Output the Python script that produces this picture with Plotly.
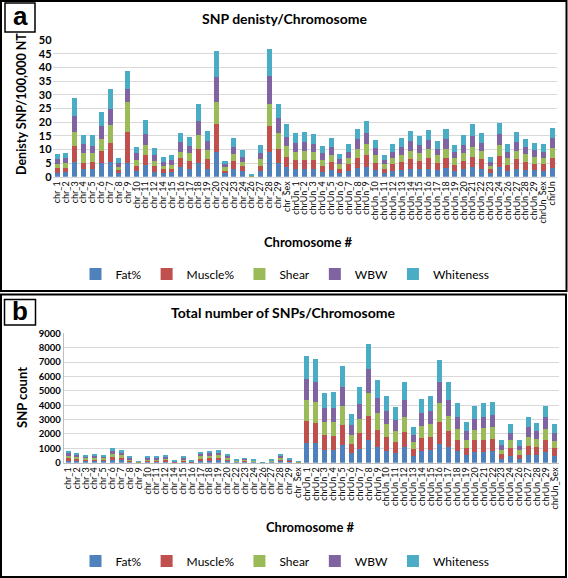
import plotly.graph_objects as go

W, H = 568, 578

# ---------------- data ----------------
cats_a = ["chr_1", "chr_2", "chr_3", "chr_4", "chr_5", "chr_6", "chr_7", "chr_8", "chr_9", "chr_10",
          "chr_11", "chr_12", "chr_14", "chr_15", "chr_16", "chr_17", "chr_18", "chr_19", "chr_20", "chr_22",
          "chr_23", "chr_24", "chr_26", "chr_27", "chr_28", "chr_29", "chr_Sex",
          "chrUn_1", "chrUn_2", "chrUn_3", "chrUn_4", "chrUn_5", "chrUn_6", "chrUn_7", "chrUn_8", "chrUn_9", "chrUn_10",
          "chrUn_11", "chrUn_12", "chrUn_13", "chrUn_14", "chrUn_15", "chrUn_16", "chrUn_17", "chrUn_18", "chrUn_19", "chrUn_20",
          "chrUn_21", "chrUn_22", "chrUn_23", "chrUn_24", "chrUn_26", "chrUn_27", "chrUn_28", "chrUn_29", "chrUn_Sex", "chrUn"]

fat_a = [1.5, 1.8, 5.5, 2.7, 2.7, 5.0, 5.5, 1.2, 5.0, 2.0, 4.3, 1.8, 1.2, 1.7, 3.5, 2.7, 4.9, 2.7, 8.9, 1.2,
         2.7, 2.1, 0.1, 2.1, 8.9, 5.0, 3.6,
         2.8, 3.0, 2.8, 1.8, 2.4, 1.3, 2.0, 3.3, 3.7, 2.4, 1.2, 2.0, 2.4, 3.0, 2.7, 3.0, 2.4, 3.3, 2.0, 2.7,
         3.4, 2.9, 1.2, 3.4, 2.0, 3.0, 2.4, 2.3, 2.0, 3.3]
muscle_a = [1.8, 1.5, 5.8, 2.3, 2.7, 4.5, 6.9, 1.2, 11.2, 2.0, 3.6, 2.2, 1.5, 1.3, 3.2, 3.0, 5.3, 3.6, 10.2, 1.0,
            2.9, 1.8, 0.1, 1.9, 9.8, 5.2, 3.6,
            3.3, 3.1, 3.3, 2.1, 2.8, 1.7, 2.5, 3.4, 4.1, 2.7, 1.7, 2.6, 3.0, 3.5, 2.9, 3.7, 2.7, 3.5, 2.4, 3.2,
            3.9, 3.4, 1.5, 4.3, 2.4, 3.3, 3.1, 2.5, 2.6, 3.6]
shear_a = [1.5, 1.6, 5.0, 3.7, 3.3, 4.3, 6.5, 1.3, 11.2, 2.1, 3.6, 1.9, 1.2, 1.3, 2.3, 2.8, 5.0, 3.6, 8.3, 1.2,
           2.7, 1.5, 0.1, 2.3, 8.0, 5.8, 4.1,
           3.0, 3.3, 2.8, 2.2, 2.8, 1.6, 2.5, 3.4, 4.0, 2.8, 1.6, 2.2, 2.5, 3.0, 2.9, 3.3, 2.7, 3.3, 2.3, 2.9,
           3.7, 3.2, 1.3, 3.9, 2.3, 3.2, 2.7, 2.4, 2.3, 3.5]
wbw_a = [1.5, 1.8, 6.0, 3.1, 2.6, 4.7, 5.9, 1.4, 4.6, 2.6, 4.1, 2.0, 1.6, 1.8, 3.7, 2.8, 5.2, 3.0, 9.2, 1.1,
         2.7, 1.9, 0.1, 2.4, 10.0, 5.3, 3.3,
         3.3, 3.2, 3.1, 2.4, 3.0, 1.7, 2.1, 3.6, 4.1, 2.5, 1.6, 2.3, 3.1, 3.7, 3.0, 3.4, 2.4, 3.6, 2.2, 2.8,
         3.9, 2.9, 1.4, 3.9, 2.3, 3.3, 2.5, 2.6, 2.2, 3.6]
white_a = [2.0, 1.8, 6.6, 3.3, 3.8, 5.2, 7.2, 1.6, 6.7, 2.2, 5.1, 2.6, 1.7, 1.8, 3.3, 3.2, 6.2, 3.8, 9.4, 1.2,
           3.3, 2.3, 0.6, 2.9, 10.0, 5.2, 4.7,
           3.5, 3.6, 3.5, 2.7, 3.3, 1.9, 2.9, 3.6, 4.3, 3.0, 1.8, 2.7, 3.3, 3.5, 3.4, 3.7, 3.0, 3.7, 2.7, 3.5,
           4.2, 3.5, 1.7, 4.1, 2.8, 3.7, 3.0, 2.6, 2.9, 3.8]

cats_b = ["chr_1", "chr_2", "chr_3", "chr_4", "chr_5", "chr_6", "chr_7", "chr_8", "chr_9", "chr_10",
          "chr_11", "chr_12", "chr_14", "chr_15", "chr_16", "chr_17", "chr_18", "chr_19", "chr_20", "chr_22",
          "chr_23", "chr_24", "chr_26", "chr_27", "chr_28", "chr_29", "chr_Sex",
          "chrUn_1", "chrUn_2", "chrUn_3", "chrUn_4", "chrUn_5", "chrUn_6", "chrUn_7", "chrUn_8", "chrUn_9", "chrUn_10",
          "chrUn_11", "chrUn_12", "chrUn_13", "chrUn_14", "chrUn_15", "chrUn_16", "chrUn_17", "chrUn_18", "chrUn_19", "chrUn_20",
          "chrUn_21", "chrUn_22", "chrUn_23", "chrUn_24", "chrUn_26", "chrUn_27", "chrUn_28", "chrUn_29", "chrUn_Sex"]

fat_b = [150, 125, 100, 110, 105, 190, 165, 75, 10, 75, 75, 90, 22, 75, 22, 140, 150, 160, 110, 35,
         57, 40, 2, 40, 110, 48, 13,
         1346, 1346, 905, 882, 1230, 650, 974, 1601, 1090, 789, 673, 1090, 487, 835, 882, 1322, 1067, 789, 510, 719,
         766, 789, 232, 464, 232, 534, 510, 766, 487]
muscle_b = [170, 140, 110, 125, 115, 210, 180, 80, 10, 80, 80, 100, 24, 80, 24, 150, 170, 175, 125, 38,
            62, 43, 2, 43, 125, 52, 14,
            1554, 1438, 998, 974, 1392, 626, 1067, 1624, 1183, 998, 789, 1067, 487, 905, 928, 1485, 1114, 812, 534, 835,
            835, 858, 371, 557, 325, 650, 557, 789, 557]
shear_b = [160, 130, 105, 120, 110, 200, 175, 78, 10, 78, 78, 95, 23, 78, 23, 145, 160, 170, 120, 37,
           60, 41, 2, 41, 120, 50, 14,
           1462, 1438, 928, 974, 1322, 650, 998, 1624, 1160, 928, 766, 1044, 441, 835, 905, 1369, 1067, 766, 557, 742,
           812, 835, 302, 557, 302, 626, 557, 789, 487]
wbw_b = [160, 135, 105, 120, 110, 205, 175, 78, 10, 78, 78, 98, 23, 78, 23, 150, 160, 170, 120, 37,
         60, 42, 2, 42, 120, 51, 14,
         1438, 1415, 951, 998, 1322, 673, 1067, 1647, 1090, 905, 766, 1183, 487, 905, 905, 1415, 1137, 835, 580, 766,
         766, 835, 302, 464, 325, 673, 580, 812, 510]
white_b = [172, 143, 114, 128, 117, 216, 187, 83, 10, 83, 83, 104, 24, 83, 24, 157, 172, 183, 128, 39,
           63, 43, 2, 43, 128, 54, 15,
           1624, 1578, 1067, 1090, 1462, 766, 1160, 1763, 1230, 1021, 858, 1230, 603, 951, 998, 1554, 1206, 928, 626, 858,
           951, 905, 348, 626, 371, 673, 557, 789, 626]

series_names = ["Fat%", "Muscle%", "Shear", "WBW", "Whiteness"]
colors = ["#4F81BD", "#C0504D", "#9BBB59", "#8064A2", "#4BACC6"]

FONT = "Lato"

def px(x):
    return x / W

def py(y):
    return 1 - y / H

fig = go.Figure()
for name, col, vals in zip(series_names, colors, [fat_a, muscle_a, shear_a, wbw_a, white_a]):
    fig.add_trace(go.Bar(x=cats_a, y=vals, name=name, marker=dict(color=col, line=dict(width=0)),
                         xaxis="x", yaxis="y", legend="legend"))
for name, col, vals in zip(series_names, colors, [fat_b, muscle_b, shear_b, wbw_b, white_b]):
    fig.add_trace(go.Bar(x=cats_b, y=vals, name=name, marker=dict(color=col, line=dict(width=0)),
                         xaxis="x2", yaxis="y2", legend="legend2"))

tickfont_x = dict(family=FONT, size=9, color="black")

fig.update_layout(
    width=W, height=H, autosize=False,
    margin=dict(l=0, r=0, t=0, b=0, pad=0, autoexpand=False),
    paper_bgcolor="white", plot_bgcolor="white",
    barmode="stack", bargap=0.43,
    font=dict(family=FONT, color="black"),
    xaxis=dict(domain=[px(52.6), px(556.5)], anchor="y", tickangle=-90, tickfont=tickfont_x,
               tickmode="linear", dtick=1, automargin=False,
               showline=True, linecolor="#D9D9D9", ticks="", showgrid=False),
    yaxis=dict(domain=[py(176.7), py(40)], anchor="x", range=[0, 50], dtick=5, automargin=False,
               showgrid=True, gridcolor="#D9D9D9", gridwidth=1, zeroline=False, showline=False,
               tickfont=dict(family=FONT, size=11, color="black", weight="bold"), ticks=""),
    xaxis2=dict(domain=[px(63.6), px(559)], anchor="y2", tickangle=-90, tickfont=tickfont_x,
                tickmode="linear", dtick=1, automargin=False,
                showline=True, linecolor="#BFBFBF", ticks="", showgrid=False),
    yaxis2=dict(domain=[py(462.7), py(333.3)], anchor="x2", range=[0, 9000], dtick=1000, automargin=False,
                showgrid=True, gridcolor="#D9D9D9", gridwidth=1, zeroline=False,
                showline=True, linecolor="#BFBFBF",
                tickfont=dict(family=FONT, size=9.5, color="black", weight="bold"), ticks=""),
    legend=dict(orientation="h", x=px(285), xanchor="center", y=py(274), yanchor="middle",
                font=dict(family=FONT, size=12, color="black"), itemwidth=30, traceorder="normal"),
    legend2=dict(orientation="h", x=px(285), xanchor="center", y=py(561), yanchor="middle",
                 font=dict(family=FONT, size=12, color="black"), itemwidth=30, traceorder="normal"),
    showlegend=True,
)

def note(text, x, y, size, angle=0, family=FONT):
    return dict(text=text, x=px(x), y=py(y), xref="paper", yref="paper", xanchor="center", yanchor="middle",
                textangle=angle, showarrow=False, font=dict(family=family, size=size, color="black"))

ann = [
    note("<b>SNP denisty/Chromosome</b>", 284, 18, 14),
    note("<b>Total number of SNPs/Chromosome</b>", 283, 312, 14),
    note("<b>Denisty SNP/100,000 NT</b>", 22, 104, 12.5, angle=-90),
    note("<b>SNP count</b>", 22, 398, 13, angle=-90),
    note("<b>Chromosome #</b>", 308, 242, 13),
    note("<b>Chromosome #</b>", 310, 527, 13),
    note("<b>a</b>", 20, 16, 26, family="Liberation Sans"),
    note("<b>b</b>", 20, 311, 26, family="Liberation Sans"),
]
fig.update_layout(annotations=ann)

shapes = [
    dict(type="rect", xref="paper", yref="paper", x0=px(1), x1=px(566.5), y0=py(291), y1=py(1),
         line=dict(color="black", width=2)),
    dict(type="rect", xref="paper", yref="paper", x0=px(1), x1=px(566), y0=py(577), y1=py(294.5),
         line=dict(color="black", width=2)),
    dict(type="rect", xref="paper", yref="paper", x0=px(5), x1=px(35), y0=py(32), y1=py(3),
         line=dict(color="black", width=1.5)),
    dict(type="rect", xref="paper", yref="paper", x0=px(4.5), x1=px(35.5), y0=py(325), y1=py(299.5),
         line=dict(color="black", width=1.5)),
]
fig.update_layout(shapes=shapes)

fig.write_html("out.html", config={"displayModeBar": False},
               post_script="document.body.style.margin='0';document.body.style.overflow='hidden';")
